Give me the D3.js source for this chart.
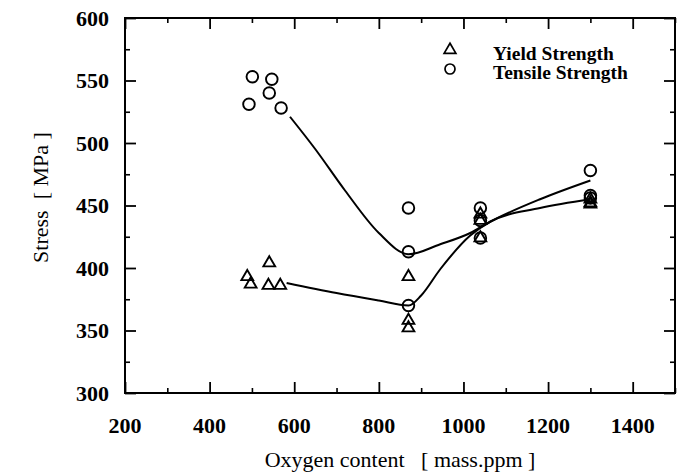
<!DOCTYPE html>
<html>
<head>
<meta charset="utf-8">
<script src="https://cdn.jsdelivr.net/npm/d3@7"></script>
<style>
  body { margin: 0; background: #fff; }
  svg text { font-family: 'Liberation Serif', 'Times New Roman', serif; fill: #000; }
</style>
</head>
<body>
<div id="chart"></div>
<script>
let tensileX = [493, 501, 541, 547, 569, 870, 870, 870, 1040, 1040, 1040, 1300, 1300, 1300]
let tensileY = [531, 553, 540, 551, 528, 448, 413, 370, 448, 438, 424, 478, 458, 456]
let yieldX = [489, 497, 541, 539, 567, 870, 870, 870, 1040, 1040, 1040, 1300, 1300, 1300]
let yieldY = [393, 387, 404, 386, 386, 393, 358, 352, 443, 438, 424, 455, 452, 451]

// fitted curves (hand traced)
let tensileFitX = [590, 650, 720, 800, 870, 945, 1016, 1063, 1181, 1300]
let tensileFitY = [521, 495, 462, 428, 411, 419, 428, 437, 455, 470]
let yieldFitX = [582, 700, 800, 870, 900, 945, 1016, 1063, 1181, 1300]
let yieldFitY = [388, 380, 374, 370, 378, 399, 426, 437, 448, 455]

let xTicks = [200, 400, 600, 800, 1000, 1200, 1400]
let yTicks = [300, 350, 400, 450, 500, 550, 600]
let legendLabels = ['Yield Strength', 'Tensile Strength']

let margin = { top: 18, left: 125, right: 12, bottom: 82 }
let width = 687 - margin.left - margin.right
let height = 475 - margin.top - margin.bottom

let svg = d3
  .select('#chart')
  .append('svg')
  .attr('width', 687)
  .attr('height', 475)
  .append('g')
  .attr('transform', `translate(${margin.left}, ${margin.top})`)

let x = d3.scaleLinear().domain([200, 1500]).range([0, width])
let y = d3.scaleLinear().domain([300, 600]).range([height, 0])

let minorX = d3.range(200, 1501, 100).filter(d => d % 200 !== 0)
let minorY = d3.range(300, 601, 25).filter(d => d % 50 !== 0)

// frame
svg
  .append('rect')
  .attr('width', width)
  .attr('height', height)
  .attr('fill', 'none')
  .attr('stroke', '#000')
  .attr('stroke-width', 2)

// ticks on all four sides, pointing in
function tickSet(g, axis, major, minor) {
  g.call(axis.tickValues(major).tickSize(-11).tickFormat(''))
  g.selectAll('.domain').remove()
  g.selectAll('line').attr('stroke', '#000').attr('stroke-width', 1.8)
  let g2 = g.append('g')
  g2.call(axis.tickValues(minor).tickSize(-5).tickFormat(''))
  g2.selectAll('.domain').remove()
  g2.selectAll('line').attr('stroke', '#000').attr('stroke-width', 1.6)
}

tickSet(svg.append('g').attr('transform', `translate(0,${height})`), d3.axisBottom(x), xTicks, minorX)
tickSet(svg.append('g'), d3.axisTop(x), xTicks, minorX)
tickSet(svg.append('g'), d3.axisLeft(y), yTicks, minorY)
tickSet(svg.append('g').attr('transform', `translate(${width},0)`), d3.axisRight(y), yTicks, minorY)

// tick labels
svg
  .selectAll('.xlab')
  .data(xTicks)
  .enter()
  .append('text')
  .attr('x', d => x(d))
  .attr('y', height + 40)
  .attr('text-anchor', 'middle')
  .attr('fill', '#000')
  .style('font-size', '22px')
  .style('font-weight', 'bold')
  .text(d => d)

svg
  .selectAll('.ylab')
  .data(yTicks)
  .enter()
  .append('text')
  .attr('x', -16)
  .attr('y', d => y(d))
  .attr('dy', '0.35em')
  .attr('text-anchor', 'end')
  .attr('fill', '#000')
  .style('font-size', '22px')
  .style('font-weight', 'bold')
  .text(d => d)

// axis titles
svg
  .append('text')
  .attr('x', width / 2)
  .attr('y', height + 74)
  .attr('text-anchor', 'middle')
  .attr('fill', '#000')
  .style('font-size', '22px')
  .style('white-space', 'pre')
  .text('Oxygen content   [ mass.ppm ]')

svg
  .append('text')
  .attr('transform', `translate(${-77}, ${height / 2 - 8}) rotate(-90)`)
  .attr('text-anchor', 'middle')
  .attr('fill', '#000')
  .style('font-size', '22px')
  .style('white-space', 'pre')
  .text('Stress  [ MPa ]')

// fitted lines
let line = d3
  .line()
  .x(d => x(d[0]))
  .y(d => y(d[1]))
  .curve(d3.curveMonotoneX)

svg
  .append('path')
  .datum(tensileFitX.map((d, i) => [d, tensileFitY[i]]))
  .attr('d', line)
  .attr('fill', 'none')
  .attr('stroke', '#000')
  .attr('stroke-width', 2)

svg
  .append('path')
  .datum(yieldFitX.map((d, i) => [d, yieldFitY[i]]))
  .attr('d', line)
  .attr('fill', 'none')
  .attr('stroke', '#000')
  .attr('stroke-width', 2)

let tri = d3.symbol().type(d3.symbolTriangle).size(60)

// points
svg
  .selectAll('.yield')
  .data(yieldX.map((d, i) => [d, yieldY[i]]))
  .enter()
  .append('path')
  .attr('d', tri)
  .attr('transform', d => `translate(${x(d[0])},${y(d[1])})`)
  .attr('fill', 'none')
  .attr('stroke', '#000')
  .attr('stroke-width', 1.9)

svg
  .selectAll('.tensile')
  .data(tensileX.map((d, i) => [d, tensileY[i]]))
  .enter()
  .append('circle')
  .attr('cx', d => x(d[0]))
  .attr('cy', d => y(d[1]))
  .attr('r', 5.8)
  .attr('fill', 'none')
  .attr('stroke', '#000')
  .attr('stroke-width', 1.9)

// legend
let legend = svg.append('g').attr('transform', `translate(${450 - margin.left}, 0)`)
legend
  .append('path')
  .attr('d', tri)
  .attr('transform', `translate(0, ${50 - margin.top})`)
  .attr('fill', 'none')
  .attr('stroke', '#000')
  .attr('stroke-width', 1.7)
legend
  .append('circle')
  .attr('cx', 0)
  .attr('cy', 69 - margin.top)
  .attr('r', 5)
  .attr('fill', 'none')
  .attr('stroke', '#000')
  .attr('stroke-width', 1.7)
legend
  .selectAll('.leg')
  .data(legendLabels)
  .enter()
  .append('text')
  .attr('x', 43)
  .attr('y', (d, i) => 60 - margin.top + i * 19)
  .attr('fill', '#000')
  .style('font-size', '19.5px')
  .style('font-weight', 'bold')
  .text(d => d)
</script>
</body>
</html>
